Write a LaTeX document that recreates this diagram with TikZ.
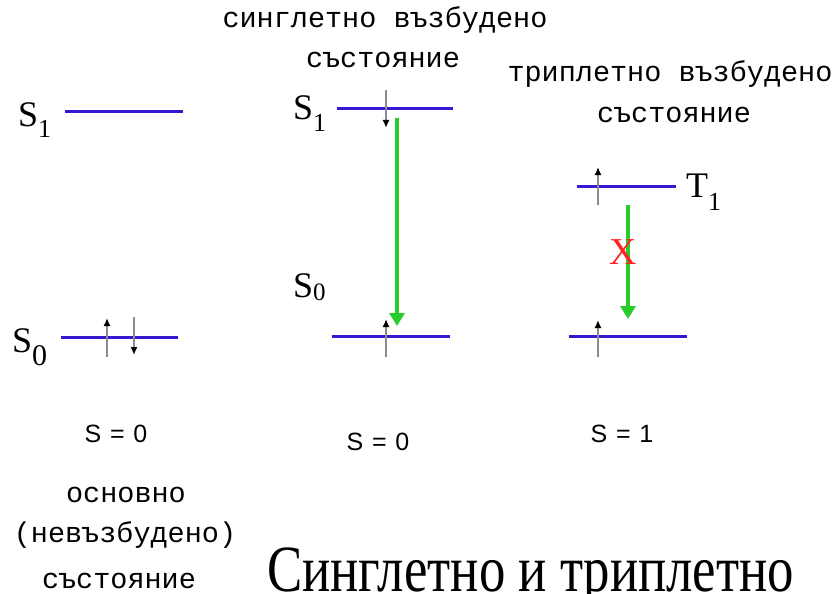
\documentclass[tikz,border=0pt]{standalone}
\usepackage{fontspec}
\setmainfont{Liberation Serif}
\newfontfamily\monof{Liberation Mono}
\newfontfamily\sansf{Liberation Sans}
\usetikzlibrary{arrows.meta}

\definecolor{levelblue}{RGB}{55,25,210}
\definecolor{spingray}{RGB}{140,140,140}
\definecolor{decaygreen}{RGB}{40,205,45}
\definecolor{forbidred}{RGB}{255,35,35}

\newcommand{\statesub}[3]{#1\raisebox{-#3pt}{\fontsize{#2}{#2}\selectfont 1}}
\newcommand{\statesubz}[3]{#1\raisebox{-#3pt}{\fontsize{#2}{#2}\selectfont 0}}

\begin{document}
\begin{tikzpicture}[x=1pt,y=-1pt,
  level/.style={draw=levelblue, line width=3pt},
  spin/.style={draw=spingray, line width=1.6pt, -{Latex[color=black,length=8pt,width=7pt]}},
  decay/.style={draw=decaygreen, line width=3.5pt, -{Triangle[length=13pt,width=15pt]}},
  caption/.style={font=\monof\fontsize{28.5}{30}\selectfont, inner sep=0pt, anchor=base},
  spinlabel/.style={font=\sansf\fontsize{25}{26}\selectfont, inner sep=0pt, anchor=base},
  statelabel/.style={font=\fontsize{36}{36}\selectfont, inner sep=0pt, anchor=base west},
]
\useasboundingbox (0,0) rectangle (839,594);

% ---------- ground state (left column) ----------
\coordinate (gS1l) at (65,112);  \coordinate (gS1r) at (183,112);
\coordinate (gS0l) at (61,337);  \coordinate (gS0r) at (178,337);
\draw[level] (gS1l) -- (gS1r);
\draw[level] (gS0l) -- (gS0r);
\node[statelabel] (gS1lab) at (18,127) {\statesub{S}{26}{10}};
\node[statelabel] (gS0lab) at (12,352) {\statesubz{S}{30}{13}};
\coordinate (gup0) at (107,357); \coordinate (gup1) at (107,318);
\coordinate (gdn0) at (134,317); \coordinate (gdn1) at (134,355);
\draw[spin] (gup0) -- (gup1);
\draw[spin] (gdn0) -- (gdn1);
\node[spinlabel] (gspin) at (116,442) {S\hspace{0.35em}=\hspace{0.35em}0};
\node[caption] (gcap1) at (126,502) {основно};
\node[caption] (gcap2) at (125,542) {(невъзбудено)};
\node[caption] (gcap3) at (119,588) {състояние};

% ---------- singlet excited state (middle column) ----------
\node[caption] (scap1) at (385,28) {синглетно възбудено};
\node[caption] (scap2) at (383,68) {състояние};
\coordinate (sS1l) at (337,109); \coordinate (sS1r) at (453,109);
\coordinate (sS0l) at (332,336); \coordinate (sS0r) at (450,336);
\draw[level] (sS1l) -- (sS1r);
\draw[level] (sS0l) -- (sS0r);
\node[statelabel] (sS1lab) at (293,120) {\statesub{S}{26}{12}};
\node[statelabel] (sS0lab) at (293,297) {\statesubz{S}{25}{3}};
\coordinate (sdn0) at (386,90);  \coordinate (sdn1) at (386,128);
\coordinate (sup0) at (386,357); \coordinate (sup1) at (386,319);
\draw[spin] (sdn0) -- (sdn1);
\draw[spin] (sup0) -- (sup1);
\coordinate (sdec0) at (397,118); \coordinate (sdec1) at (397,326);
\draw[decay] (sdec0) -- (sdec1);
\node[spinlabel] (sspin) at (378,450) {S\hspace{0.35em}=\hspace{0.35em}0};

% ---------- triplet excited state (right column) ----------
\node[caption] (tcap1) at (670,82) {триплетно възбудено};
\node[caption] (tcap2) at (674,122) {състояние};
\coordinate (tT1l) at (577,186); \coordinate (tT1r) at (676,186);
\coordinate (tS0l) at (569,336); \coordinate (tS0r) at (687,336);
\draw[level] (tT1l) -- (tT1r);
\draw[level] (tS0l) -- (tS0r);
\node[statelabel] (tT1lab) at (686,197) {\statesub{T}{26}{13}};
\coordinate (tup0) at (598,205); \coordinate (tup1) at (598,167);
\coordinate (tup2) at (598,357); \coordinate (tup3) at (598,320);
\draw[spin] (tup0) -- (tup1);
\draw[spin] (tup2) -- (tup3);
\coordinate (tdec0) at (628,205); \coordinate (tdec1) at (628,319);
\draw[decay] (tdec0) -- (tdec1);
\node[font=\fontsize{38}{38}\selectfont, text=forbidred, inner sep=0pt] (forbid) at (623,252) {X};
\node[spinlabel] (tspin) at (622,442) {S\hspace{0.35em}=\hspace{0.35em}1};

% ---------- title ----------
\node[font=\fontsize{66}{66}\selectfont, inner sep=0pt, anchor=base west] (title) at (267,591)
  {\scalebox{0.8}[1]{Синглетно и триплетно}};
\end{tikzpicture}
\end{document}
